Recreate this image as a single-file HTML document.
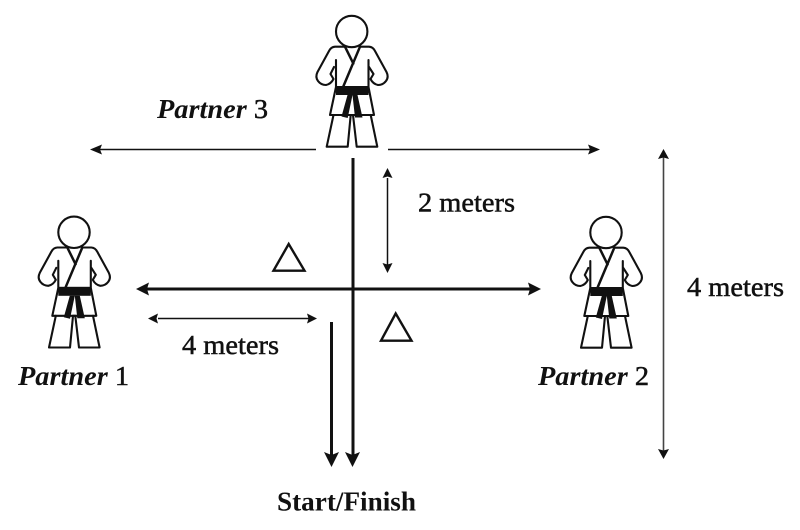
<!DOCTYPE html>
<html><head><meta charset="utf-8"><style>
html,body{margin:0;padding:0;background:#fff;width:800px;height:530px;overflow:hidden}
svg{display:block}
text{font-family:"Liberation Serif",serif;font-size:27.5px;font-weight:bold;fill:#111}
.n{font-weight:normal;stroke:#111;stroke-width:.5px}
</style></head><body>
<svg width="800" height="530" viewBox="0 0 800 530" xmlns="http://www.w3.org/2000/svg">
<defs>
<g id="f">
<g fill="none" stroke="#111" stroke-width="2.1" stroke-linejoin="round" stroke-linecap="round">
<circle cx="351.7" cy="31.5" r="15.7"/>
<path d="M345 46.7H335Q331 47 329 51L317.5 72Q315 77 318 81Q321 85 326 85Q331 84 333.5 79L330.5 74L334 67"/>
<path d="M360 46.7H369Q373 47 375 51L386.5 72Q389 77 386 81Q383 85 378 85Q373 84 370.5 79L373.5 74L369 67"/>
<path d="M336 60V87L330 115H374L368.5 87V60"/>
<path d="M333.5 115L326.7 146.7H347.7L350.7 115H353L356.7 146.7H377.3L370.7 115"/>
<path d="M345 46.7L353.3 63.5M360 46.7L343.5 86" stroke-width="2.5"/>
</g>
<rect x="336" y="86" width="32.5" height="9" fill="#111"/>
<path d="M347.5 95L341.5 116.5L347.7 118L352.5 95ZM352.5 95L355 117.5L362.5 117.5L357.5 95Z" fill="#111"/>
</g>
</defs>
<use href="#f"/>
<use href="#f" transform="translate(-277.7 200.8)"/>
<use href="#f" transform="translate(254.3 201)"/>

<g stroke="#111" fill="none">
<path d="M100 149.5H316M388 149.5H590" stroke-width="1.5"/>
<path d="M353 158V460" stroke-width="3"/>
<path d="M145 289H530" stroke-width="3"/>
<path d="M331.5 322V458" stroke-width="3"/>
<path d="M158 318.5H310" stroke-width="1.5"/>
<path d="M387.5 178V266" stroke-width="1.5"/>
<path d="M663.5 155V453" stroke="#444" stroke-width="1.6"/>
<path d="M288.7 244L273.5 270.7H304.5Z M395.7 313.5L381 340.7H411.5Z" stroke-width="2.4" stroke-linejoin="miter"/>
</g>
<g fill="#111">
<path d="M90 149.5L102 144.5L100 149.5L102 154.5Z"/>
<path d="M600 149.5L588 144.5L590 149.5L588 154.5Z"/>
<path d="M136 289L149 282.5L147 289L149 295.5Z"/>
<path d="M541 289L528 282.5L530 289L528 295.5Z"/>
<path d="M148 318.5L158 313.5L156.5 318.5L158 323.5Z"/>
<path d="M317 318.5L307 313.5L308.5 318.5L307 323.5Z"/>
<path d="M387.5 168L382.5 178L387.5 176.5L392.5 178Z"/>
<path d="M387.5 273L382.5 263L387.5 264.5L392.5 263Z"/>
<path d="M663.5 149L658 159L663.5 157.5L669 159Z"/>
<path d="M663.5 459L658 449L663.5 450.5L669 449Z"/>
<path d="M331.5 467L324 452L331.5 455L339 452Z"/>
<path d="M352.5 467L345 452L352.5 455L360 452Z"/>
</g>

<text x="157" y="118" textLength="111" lengthAdjust="spacingAndGlyphs"><tspan font-style="italic">Partner</tspan><tspan class="n"> 3</tspan></text>
<text x="18" y="385" textLength="111" lengthAdjust="spacingAndGlyphs"><tspan font-style="italic">Partner</tspan><tspan class="n"> 1</tspan></text>
<text x="538" y="385" textLength="111" lengthAdjust="spacingAndGlyphs"><tspan font-style="italic">Partner</tspan><tspan class="n"> 2</tspan></text>
<text class="n" x="418" y="211.5" textLength="97" lengthAdjust="spacingAndGlyphs">2 meters</text>
<text class="n" x="182" y="354" textLength="97" lengthAdjust="spacingAndGlyphs">4 meters</text>
<text class="n" x="687" y="296" textLength="97" lengthAdjust="spacingAndGlyphs">4 meters</text>
<text x="277" y="510.5" textLength="139" lengthAdjust="spacingAndGlyphs">Start/Finish</text>
</svg>
</body></html>
